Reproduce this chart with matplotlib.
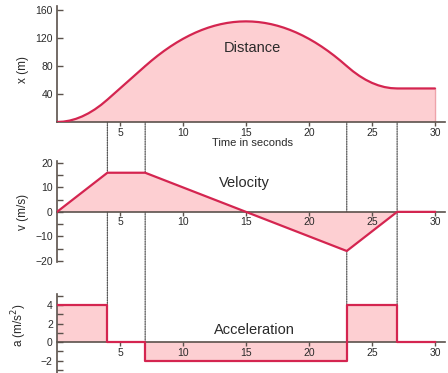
import matplotlib
matplotlib.use("Agg")
import matplotlib.pyplot as plt
from matplotlib.patches import ConnectionPatch
from matplotlib.ticker import MultipleLocator

plt.rcParams['font.family'] = ['Liberation Sans', 'DejaVu Sans']

# Distance (m) read every half second
t_x = [i * 0.5 for i in range(61)]
x_vals = [0, 0.5, 2, 4.5, 8, 12.5, 18, 24.5, 32,
          40, 48, 56, 64, 72, 80,
          87.75, 95, 101.75, 108, 113.75, 119, 123.75, 128, 131.75, 135,
          137.75, 140, 141.75, 143, 143.75, 144,
          143.75, 143, 141.75, 140, 137.75, 135, 131.75, 128, 123.75, 119,
          113.75, 108, 101.75, 95, 87.75, 80,
          72.5, 66, 60.5, 56, 52.5, 50, 48.5, 48,
          48, 48, 48, 48, 48, 48]

# Velocity (m/s) at the break points
t_v = [0, 4, 7, 15, 23, 27, 30]
v_vals = [0, 16, 16, 0, -16, 0, 0]

# Acceleration (m/s^2) piecewise constant, step edges
t_a = [0, 4, 7, 23, 27, 30]
a_vals = [4, 0, -2, 4, 0, 0]

# Event times with dotted guides
t_events = [4, 7, 23, 27]

x_ticks = [5, 10, 15, 20, 25, 30]

LINE = '#d42550'
FILL = '#fdcfd2'
SPINE = '#5b524c'
TXT = '#2a2a2a'

fig = plt.figure(figsize=(4.48, 3.73), dpi=100)
W, H = 448, 373
def rect(l, t, r, b):
    return [l / W, 1 - b / H, (r - l) / W, (b - t) / H]

ax1 = fig.add_axes(rect(57, 6, 445, 122))
ax2 = fig.add_axes(rect(57, 161, 445, 262))
ax3 = fig.add_axes(rect(57, 294, 445, 373))

for ax in (ax1, ax2, ax3):
    ax.set_xlim(0, 30.8)
    for s in ('top', 'right'):
        ax.spines[s].set_visible(False)
    for s in ('left', 'bottom'):
        ax.spines[s].set_color(SPINE)
        ax.spines[s].set_linewidth(1.2)
    ax.set_xticks(x_ticks)
    ax.tick_params(axis='x', direction='out', length=3, width=1, color=SPINE,
                   labelsize=7.5, labelcolor=TXT, pad=1)
    ax.tick_params(axis='y', which='both', direction='in', length=4, width=1,
                   color=SPINE, labelsize=7.5, labelcolor=TXT, pad=3)
    ax.patch.set_alpha(0)

# Distance
ax1.set_ylim(0, 166)
ax1.fill_between(t_x, x_vals, 0, color=FILL, edgecolor='none', zorder=1)
ax1.plot([t_x[-1], t_x[-1]], [0, x_vals[-1]], color='#eea3aa', lw=1, zorder=2)
ax1.plot(t_x, x_vals, color=LINE, lw=1.6, zorder=3, solid_capstyle='round')
ax1.set_yticks([40, 80, 120, 160])
ax1.text(15.5, 106, 'Distance', fontsize=10.5, ha='center', va='center', color=TXT)
ax1.text(15.5, -30, 'Time in seconds', fontsize=8, ha='center', va='center',
         color=TXT, clip_on=False)
ax1.set_ylabel('x (m)', fontsize=8.5, color=TXT)
ax1.yaxis.set_label_coords(-0.072, 0.45)

# Velocity
ax2.set_ylim(-20.5, 20.8)
ax2.spines['bottom'].set_position(('data', 0))
ax2.fill_between(t_v, v_vals, 0, color=FILL, edgecolor='none', zorder=1)
ax2.plot(t_v, v_vals, color=LINE, lw=1.6, zorder=3)
ax2.set_yticks([-20, -10, 0, 10, 20])
ax2.yaxis.set_minor_locator(MultipleLocator(5))
ax2.text(14.9, 11.8, 'Velocity', fontsize=10.5, ha='center', va='center', color=TXT)
ax2.set_ylabel('v (m/s)', fontsize=8.5, color=TXT)
ax2.yaxis.set_label_coords(-0.072, 0.5)

# Acceleration
ax3.set_ylim(-3.35, 5.2)
ax3.spines['bottom'].set_position(('data', 0))
ax3.fill_between(t_a, a_vals, 0, step='post', color=FILL, edgecolor='none', zorder=1)
ax3.step(t_a, a_vals, where='post', color=LINE, lw=1.6, zorder=3)
ax3.set_yticks([-2, 0, 2, 4])
ax3.yaxis.set_minor_locator(MultipleLocator(1))
ax3.text(15.7, 1.3, 'Acceleration', fontsize=10.5, ha='center', va='center', color=TXT)
ax3.set_ylabel('a (m/s$^2$)', fontsize=8.5, color=TXT)
ax3.yaxis.set_label_coords(-0.072, 0.6)

# Dotted guide lines
for te in t_events:
    xi = x_vals[t_x.index(te)]
    k = t_a.index(te)
    a_end = max(a_vals[k - 1], a_vals[k])
    cp = ConnectionPatch(xyA=(te, xi), coordsA=ax1.transData,
                         xyB=(te, a_end), coordsB=ax3.transData,
                         color='#555555', lw=0.9, linestyle=(0, (1, 1)), zorder=0)
    fig.add_artist(cp)

fig.savefig('out.png', dpi=100)
